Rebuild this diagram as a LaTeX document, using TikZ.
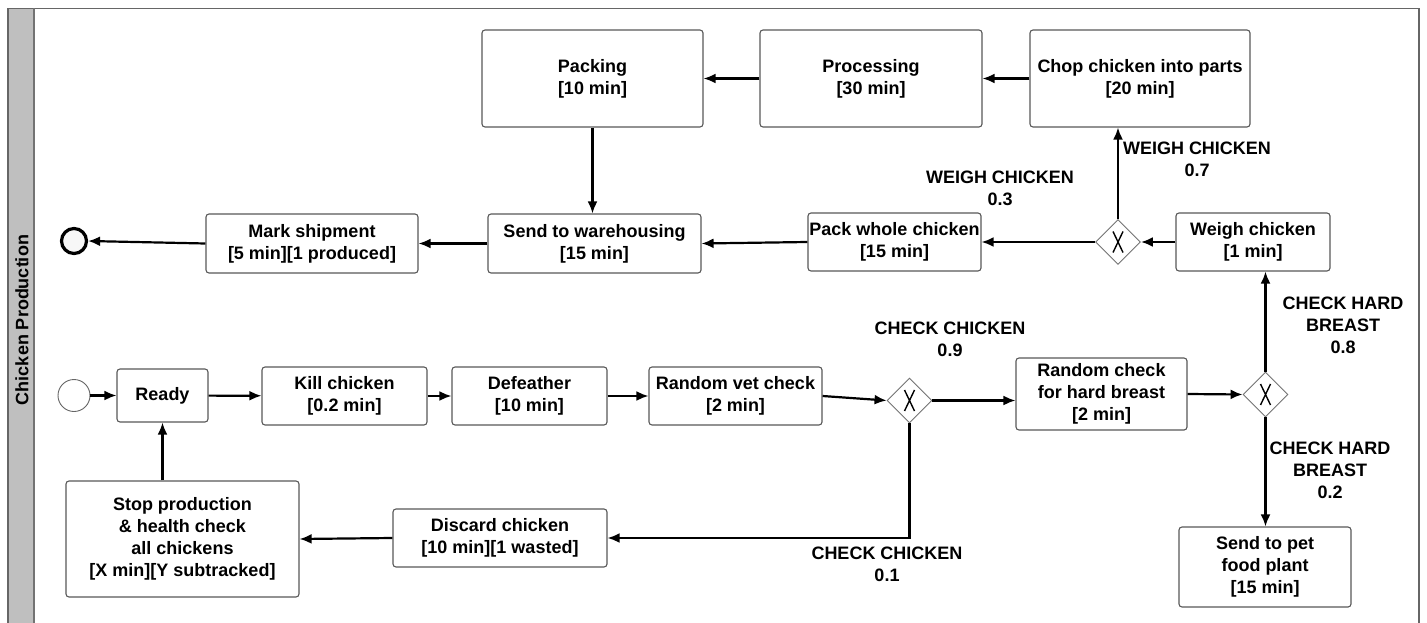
\documentclass[tikz,border=0pt]{standalone}
\usepackage{fontspec}
\setmainfont{Liberation Sans}
\usetikzlibrary{arrows.meta,shapes.geometric,shadows}
\newcommand\taskfont{\bfseries\fontsize{18}{22}\selectfont}
\begin{document}
\begin{tikzpicture}[x=1pt,y=-1pt,
  task/.style={draw=black!65, line width=1.1pt, rounded corners=3pt, fill=white,
    align=center, inner sep=0pt, font=\taskfont},
  gate/.style={diamond, draw=black!55, line width=0.9pt, fill=white,
    minimum width=45pt, minimum height=45pt, inner sep=0pt,
    path picture={
      \draw[line width=1.4pt, black]
        ([shift={(-5,-10.5)}]path picture bounding box.center) -- ([shift={(5,10.5)}]path picture bounding box.center)
        ([shift={(5,-10.5)}]path picture bounding box.center) -- ([shift={(-5,10.5)}]path picture bounding box.center);}},
  flow/.style={line width=2.2pt, -{Latex[length=12pt,width=10pt]}},
  cond/.style={align=center, font=\taskfont, inner sep=0pt},
]
\useasboundingbox (0,0) rectangle (1427,623);
\clip (0,0) rectangle (1427,623);

% pool with its lane header
\fill[white] (0,0) rectangle (1427,623);
\fill[black!25] (8,8.5) rectangle (34,640);
\draw[black!60, line width=1.2pt] (8,8.5) rectangle (1419,640);
\draw[black!55, line width=2pt] (34,8.5) -- (34,640);
\node[rotate=90, font=\taskfont] (lane) at (22,320) {Chicken Production};

% events
\node[circle, draw=black!60, line width=0.9pt, fill=white, minimum size=32pt, inner sep=0pt] (start) at (74,395.5) {};
\node[circle, draw=black, line width=3.2pt, fill=black!3, minimum size=25pt, inner sep=0pt,
      drop shadow={shadow xshift=1pt, shadow yshift=-1.5pt, opacity=0.25}] (end) at (74,241) {};

% activities
\node[task, minimum width=91pt,  minimum height=53pt]  (ready)     at (162.5,395.5) {Ready};
\node[task, minimum width=165pt, minimum height=58pt]  (kill)      at (344.5,396)   {Kill chicken\\{[0.2 min]}};
\node[task, minimum width=155pt, minimum height=58pt]  (defeather) at (529.5,396)   {Defeather\\{[10 min]}};
\node[task, minimum width=173pt, minimum height=58pt]  (vet)       at (735.5,396)   {Random vet check\\{[2 min]}};
\node[task, minimum width=171pt, minimum height=72pt]  (hard)      at (1101.5,394)  {Random check\\for hard breast\\{[2 min]}};
\node[task, minimum width=154pt, minimum height=58pt]  (weigh)     at (1253,242)    {Weigh chicken\\{[1 min]}};
\node[task, minimum width=173pt, minimum height=58pt]  (whole)     at (894.5,242)   {Pack whole chicken\\{[15 min]}};
\node[task, minimum width=213pt, minimum height=59pt]  (ware)      at (594.5,243.5) {Send to warehousing\\{[15 min]}};
\node[task, minimum width=212pt, minimum height=59pt]  (mark)      at (312,243.5)   {Mark shipment\\{[5 min][1 produced]}};
\node[task, minimum width=221pt, minimum height=97pt]  (packing)   at (592.5,78.5)  {Packing\\{[10 min]}};
\node[task, minimum width=222pt, minimum height=97pt]  (proc)      at (871,78.5)    {Processing\\{[30 min]}};
\node[task, minimum width=220pt, minimum height=97pt]  (chop)      at (1140,78.5)   {Chop chicken into parts\\{[20 min]}};
\node[task, minimum width=172pt, minimum height=80pt]  (pet)       at (1265,567)    {Send to pet\\food plant\\{[15 min]}};
\node[task, minimum width=214pt, minimum height=58pt]  (discard)   at (500,538)     {Discard chicken\\{[10 min][1 wasted]}};
\node[task, minimum width=233pt, minimum height=116pt] (stop)      at (182.5,539)   {Stop production\\\& health check\\all chickens\\{[X min][Y subtracked]}};

% gateways
\node[gate] (g1) at (909.5,400.5) {};
\node[gate] (g2) at (1265.5,394.5) {};
\node[gate] (g3) at (1118,242) {};

% sequence flows
\draw[flow] (start) -- (ready);
\draw[flow] (ready) -- (kill);
\draw[flow] (kill) -- (defeather);
\draw[flow] (defeather) -- (vet);
\draw[flow] (vet.east) -- (g1.west);
\draw[flow] (g1.east) -- (g1.east -| hard.west);
\draw[flow] (hard.east) -- (g2.west);
\draw[flow] (g2.north) -- (g2.north |- weigh.south);
\draw[flow] (g2.south) -- (g2.south |- pet.north);
\draw[flow] (weigh.west) -- (g3.east);
\draw[flow] (g3.west) -- (whole.east);
\draw[flow] (g3.north) -- (g3.north |- chop.south);
\draw[flow] (chop.west) -- (proc.east);
\draw[flow] (proc.west) -- (packing.east);
\draw[flow] (packing.south) -- (packing.south |- ware.north);
\draw[flow] (whole.west) -- (ware.east);
\draw[flow] (ware.west) -- (mark.east);
\draw[flow] (mark.west) -- (end.east);
\draw[flow] (g1.south) |- (discard.east);
\draw[flow] (discard.west) -- (stop.east);
\draw[flow] (ready.south |- stop.north) -- (ready.south);

% branch conditions
\node[cond] (c09) at (950,339)    {CHECK CHICKEN\\0.9};
\node[cond] (c01) at (887,564)    {CHECK CHICKEN\\0.1};
\node[cond] (w03) at (1000,188)   {WEIGH CHICKEN\\0.3};
\node[cond] (w07) at (1197,159.5) {WEIGH CHICKEN\\0.7};
\node[cond] (h08) at (1343,325.5) {CHECK HARD\\BREAST\\0.8};
\node[cond] (h02) at (1330,470.5) {CHECK HARD\\BREAST\\0.2};
\end{tikzpicture}
\end{document}
